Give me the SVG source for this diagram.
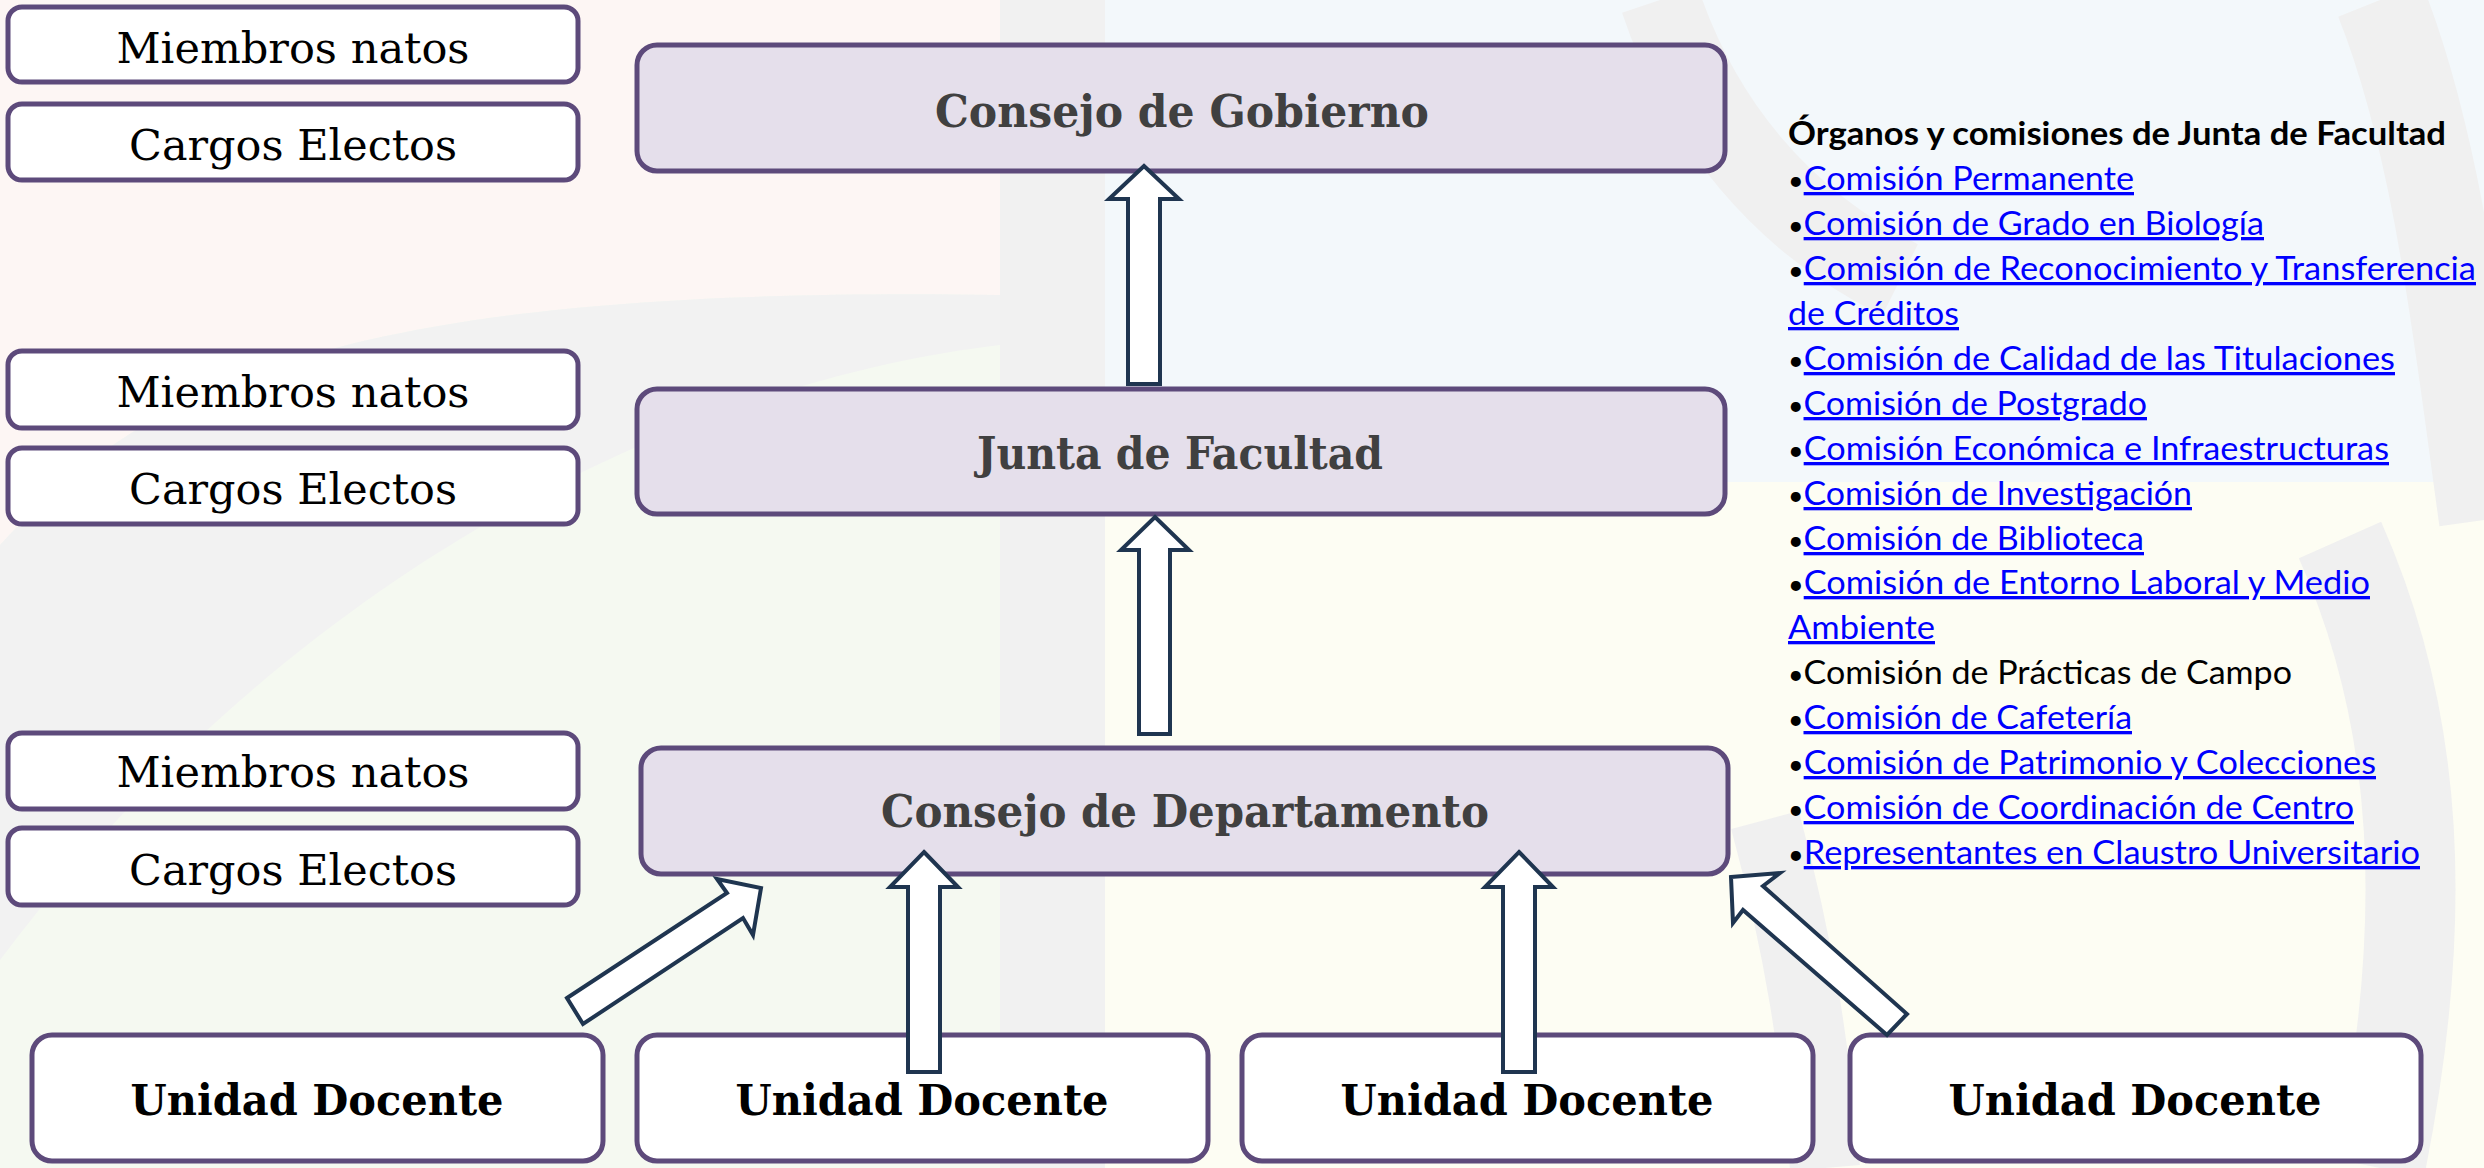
<svg xmlns="http://www.w3.org/2000/svg" width="2484" height="1168" viewBox="0 0 2484 1168">
<style>
.sbox{fill:#ffffff;stroke:#5d4a7b;stroke-width:5}
.mbox{fill:#e5dfeb;stroke:#5d4a7b;stroke-width:5}
.stxt{font-family:"DejaVu Serif","Liberation Serif",serif;font-size:42px;fill:#000;text-anchor:middle}
.mtxt{font-family:"DejaVu Serif","Liberation Serif",serif;font-size:44px;font-weight:bold;fill:#404040;text-anchor:middle}
.utxt{font-family:"DejaVu Serif","Liberation Serif",serif;font-size:42px;font-weight:bold;fill:#000;text-anchor:middle}
.arrow{fill:#ffffff;stroke:#1f3550;stroke-width:4;stroke-linejoin:miter}
.list{font-family:Lato,"Liberation Sans",sans-serif;font-size:33px;fill:#000}
.head{font-weight:bold}
.bu{font-size:26px}
.lk{fill:#0000ff;text-decoration:underline}
.bg{fill:none;stroke:#f0f0f0}
</style>
<g id="background">
<rect x="0" y="0" width="2484" height="1168" fill="#f5f9f1"/>
<path d="M0,0 H1000 V295 C350,285 150,380 0,545 Z" fill="#fdf6f4"/>
<rect x="1000" y="0" width="1484" height="482" fill="#f3f8fb"/>
<rect x="1105" y="482" width="1379" height="686" fill="#fdfdf3"/>
<path d="M0,545 C150,380 350,285 1000,295 L1000,345 C700,380 300,560 0,960 Z" fill="#f2f2f2"/>
<rect x="1000" y="0" width="105" height="1168" fill="#f1f1f1"/>
<path class="bg" d="M1660,0 C1700,120 1780,220 1900,280" stroke-width="80"/>
<path class="bg" d="M2380,0 C2440,150 2460,350 2484,520" stroke-width="90"/>
<path class="bg" d="M1765,820 C1800,950 1815,1050 1825,1168" stroke-width="70"/>
<path class="bg" d="M2340,540 C2420,720 2430,920 2380,1168" stroke-width="90"/>
</g>
<g id="miembros-natos-1"><rect class="sbox" x="8" y="7" width="570" height="75" rx="14"/><text class="stxt" x="293" y="63" textLength="353" lengthAdjust="spacingAndGlyphs">Miembros natos</text></g>
<g id="cargos-electos-1"><rect class="sbox" x="8" y="104" width="570" height="76" rx="14"/><text class="stxt" x="293" y="160" textLength="328" lengthAdjust="spacingAndGlyphs">Cargos Electos</text></g>
<g id="miembros-natos-2"><rect class="sbox" x="8" y="351" width="570" height="77" rx="14"/><text class="stxt" x="293" y="407" textLength="353" lengthAdjust="spacingAndGlyphs">Miembros natos</text></g>
<g id="cargos-electos-2"><rect class="sbox" x="8" y="448" width="570" height="76" rx="14"/><text class="stxt" x="293" y="504" textLength="328" lengthAdjust="spacingAndGlyphs">Cargos Electos</text></g>
<g id="miembros-natos-3"><rect class="sbox" x="8" y="733" width="570" height="76" rx="14"/><text class="stxt" x="293" y="787" textLength="353" lengthAdjust="spacingAndGlyphs">Miembros natos</text></g>
<g id="cargos-electos-3"><rect class="sbox" x="8" y="828" width="570" height="77" rx="14"/><text class="stxt" x="293" y="885" textLength="328" lengthAdjust="spacingAndGlyphs">Cargos Electos</text></g>
<g id="consejo-gobierno"><rect class="mbox" x="637" y="45" width="1088" height="126" rx="20"/><text class="mtxt" x="1182" y="127" textLength="494" lengthAdjust="spacingAndGlyphs">Consejo de Gobierno</text></g>
<g id="junta-facultad"><rect class="mbox" x="637" y="389" width="1088" height="125" rx="20"/><text class="mtxt" x="1180" y="469" textLength="406" lengthAdjust="spacingAndGlyphs">Junta de Facultad</text></g>
<g id="consejo-departamento"><rect class="mbox" x="641" y="748" width="1087" height="126" rx="20"/><text class="mtxt" x="1185" y="827" textLength="608" lengthAdjust="spacingAndGlyphs">Consejo de Departamento</text></g>
<g id="unidad-docente-1"><rect class="sbox" x="32" y="1035" width="571" height="126" rx="20"/><text class="utxt" x="317" y="1115" textLength="373" lengthAdjust="spacingAndGlyphs">Unidad Docente</text></g>
<g id="unidad-docente-2"><rect class="sbox" x="637" y="1035" width="571" height="126" rx="20"/><text class="utxt" x="922" y="1115" textLength="373" lengthAdjust="spacingAndGlyphs">Unidad Docente</text></g>
<g id="unidad-docente-3"><rect class="sbox" x="1242" y="1035" width="571" height="126" rx="20"/><text class="utxt" x="1527" y="1115" textLength="373" lengthAdjust="spacingAndGlyphs">Unidad Docente</text></g>
<g id="unidad-docente-4"><rect class="sbox" x="1850" y="1035" width="571" height="126" rx="20"/><text class="utxt" x="2135" y="1115" textLength="373" lengthAdjust="spacingAndGlyphs">Unidad Docente</text></g>
<g id="organos-lista" class="list">
<text class="head" x="1788" y="145" textLength="658" lengthAdjust="spacingAndGlyphs">Órganos y comisiones de Junta de Facultad</text>
<text x="1788" y="190" textLength="346" lengthAdjust="spacingAndGlyphs"><tspan class="bu">•</tspan><tspan class="lk">Comisión Permanente</tspan></text>
<text x="1788" y="235" textLength="476" lengthAdjust="spacingAndGlyphs"><tspan class="bu">•</tspan><tspan class="lk">Comisión de Grado en Biología</tspan></text>
<text x="1788" y="280" textLength="688" lengthAdjust="spacingAndGlyphs"><tspan class="bu">•</tspan><tspan class="lk">Comisión de Reconocimiento y Transferencia</tspan></text>
<text x="1788" y="325" textLength="171" lengthAdjust="spacingAndGlyphs"><tspan class="lk">de Créditos</tspan></text>
<text x="1788" y="370" textLength="607" lengthAdjust="spacingAndGlyphs"><tspan class="bu">•</tspan><tspan class="lk">Comisión de Calidad de las Titulaciones</tspan></text>
<text x="1788" y="415" textLength="359" lengthAdjust="spacingAndGlyphs"><tspan class="bu">•</tspan><tspan class="lk">Comisión de Postgrado</tspan></text>
<text x="1788" y="460" textLength="601" lengthAdjust="spacingAndGlyphs"><tspan class="bu">•</tspan><tspan class="lk">Comisión Económica e Infraestructuras</tspan></text>
<text x="1788" y="505" textLength="404" lengthAdjust="spacingAndGlyphs"><tspan class="bu">•</tspan><tspan class="lk">Comisión de Investigación</tspan></text>
<text x="1788" y="550" textLength="356" lengthAdjust="spacingAndGlyphs"><tspan class="bu">•</tspan><tspan class="lk">Comisión de Biblioteca</tspan></text>
<text x="1788" y="594" textLength="582" lengthAdjust="spacingAndGlyphs"><tspan class="bu">•</tspan><tspan class="lk">Comisión de Entorno Laboral y Medio</tspan></text>
<text x="1788" y="639" textLength="147" lengthAdjust="spacingAndGlyphs"><tspan class="lk">Ambiente</tspan></text>
<text x="1788" y="684" textLength="504" lengthAdjust="spacingAndGlyphs"><tspan class="bu">•</tspan>Comisión de Prácticas de Campo</text>
<text x="1788" y="729" textLength="344" lengthAdjust="spacingAndGlyphs"><tspan class="bu">•</tspan><tspan class="lk">Comisión de Cafetería</tspan></text>
<text x="1788" y="774" textLength="588" lengthAdjust="spacingAndGlyphs"><tspan class="bu">•</tspan><tspan class="lk">Comisión de Patrimonio y Colecciones</tspan></text>
<text x="1788" y="819" textLength="566" lengthAdjust="spacingAndGlyphs"><tspan class="bu">•</tspan><tspan class="lk">Comisión de Coordinación de Centro</tspan></text>
<text x="1788" y="864" textLength="632" lengthAdjust="spacingAndGlyphs"><tspan class="bu">•</tspan><tspan class="lk">Representantes en Claustro Universitario</tspan></text>
</g>
<g id="connectors">
<polygon class="arrow" points="1144,166 1179,199 1160,199 1160,384 1128,384 1128,199 1109,199"/>
<polygon class="arrow" points="1155,517 1189,550 1170,550 1170,734 1139,734 1139,550 1121,550"/>
<polygon class="arrow" points="924,852 958,887 940,887 940,1072 908,1072 908,887 890,887"/>
<polygon class="arrow" points="1519,852 1553,887 1535,887 1535,1072 1503,1072 1503,887 1485,887"/>
<polygon class="arrow" points="567,998 727,893 717,879 761,888 753,935 743,918 583,1024"/>
<polygon class="arrow" points="1731,877 1780,873 1763,886 1907,1014 1887,1035 1743,910 1733,923"/>
</g>
</svg>
